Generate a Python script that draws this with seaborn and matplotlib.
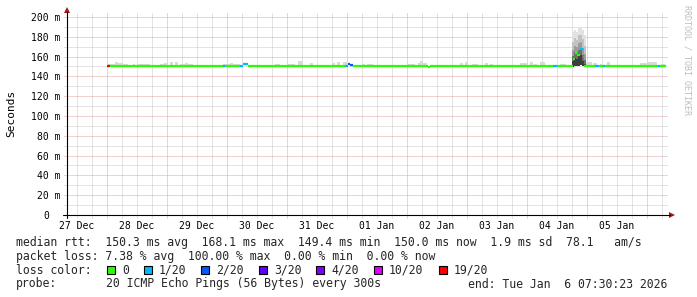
import matplotlib
matplotlib.use("Agg")
import matplotlib.pyplot as plt
from matplotlib.patches import Polygon, Rectangle
from matplotlib.lines import Line2D
from matplotlib.transforms import blended_transform_factory
import numpy as np
import pandas as pd
import seaborn as sns

# ------------------------------------------------------------------ data
# x values are hours after 27 Dec 00:00
day_labels = ["27 Dec", "28 Dec", "29 Dec", "30 Dec", "31 Dec",
              "01 Jan", "02 Jan", "03 Jan", "04 Jan", "05 Jan"]
y_tick_values = [0, 20, 40, 60, 80, 100, 120, 140, 160, 180, 200]
y_tick_labels = ["0", "20 m", "40 m", "60 m", "80 m", "100 m", "120 m",
                 "140 m", "160 m", "180 m", "200 m"]

loss_labels = ["0", "1/20", "2/20", "3/20", "4/20", "10/20", "19/20"]
loss_colors = ["#26ff00", "#00b8ff", "#0059ff", "#5e00ff", "#7e00ff",
               "#dd00ff", "#ff0000"]

# median rtt (ms) as steps: start hour, end hour, value, loss class
med_start = [24.1, 25.1, 70.3, 71.1, 77.1, 78.3, 80.3, 119.1, 120.3, 121.1,
             122.3, 152.3, 153.1, 202.3, 203.9, 210.3, 211.3, 212.1, 213.1,
             214.3, 214.9, 219.1, 220.7, 222.3, 223.1, 244.3, 245.1]
med_end = [25.1, 70.3, 71.1, 77.1, 78.3, 80.3, 119.1, 120.3, 121.1, 122.3,
           152.3, 153.1, 202.3, 203.9, 210.3, 211.3, 212.1, 213.1, 214.3,
           214.9, 219.1, 220.7, 222.3, 223.1, 244.3, 245.1, 247.5]
med_value = [150.0, 150.0, 150.0, 150.0, 150.0, 152.5, 150.0, 150.0, 153.0,
             151.5, 150.0, 149.4, 150.0, 150.0, 150.0, 158.0, 163.5, 162.0,
             168.1, 159.6, 150.0, 150.0, 150.0, 150.0, 150.0, 150.0, 150.0]
med_loss = [6, 0, 1, 0, 1, 1, 0, 1, 2, 2, 0, 0, 0, 1, 0, 0, 0, 0, 1, 1, 0,
            1, 0, 1, 0, 1, 0]

# light smoke above the median: start hour, end hour, top (ms)
smoke_start = [24.3, 27.1, 28.3, 30.3, 34.3, 35.9, 37.1, 41.1, 45.1, 46.7,
               49.1, 51.1, 53.1, 55.1, 56.3, 59.1, 62.3, 65.9, 70.3, 71.5,
               73.1, 74.3, 85.1, 87.1, 91.1, 95.9, 100.3, 103.1, 105.1,
               107.9, 113.9, 115.9, 118.3, 123.9, 125.9, 127.9, 131.1, 135.1,
               139.1, 144.3, 148.3, 149.1, 150.3, 153.1, 165.1, 167.1, 169.9,
               175.1, 177.1, 179.1, 183.1, 189.1, 193.1, 194.7, 197.1, 199.9,
               205.1, 215.1, 218.3, 221.1, 223.9, 231.9, 237.1, 240.3, 245.5]
smoke_end = [27.1, 28.3, 30.3, 32.3, 35.1, 37.1, 41.1, 45.1, 46.7, 47.9,
             50.3, 52.3, 55.1, 56.3, 58.3, 61.1, 64.3, 67.1, 71.5, 73.1,
             74.3, 77.1, 86.3, 90.3, 93.1, 99.1, 102.3, 104.3, 106.3,
             111.1, 115.1, 117.1, 119.9, 125.1, 127.1, 130.3, 133.1, 136.3,
             143.9, 147.1, 149.1, 150.3, 151.9, 155.1, 166.3, 168.3, 172.3,
             176.3, 178.3, 180.3, 184.3, 192.3, 194.3, 195.9, 199.1, 201.9,
             207.5, 217.9, 219.9, 222.3, 225.1, 233.1, 240.3, 243.9, 247.1]
smoke_top = [152.4, 154.8, 153.4, 152.1, 152.1, 152.8, 152.1, 151.6, 152.4,
             153.4, 154.1, 154.8, 152.4, 153.8, 152.4, 151.7, 151.7, 151.7,
             152.8, 152.4, 153.8, 152.8, 151.7, 151.7, 152.8, 152.1, 155.5,
             151.7, 153.8, 151.7, 153.4, 154.5, 154.8, 151.7, 152.4, 152.8,
             151.7, 151.7, 151.7, 152.8, 153.4, 155.8, 153.4, 151.7, 153.1,
             154.8, 152.8, 153.8, 152.4, 151.7, 151.7, 153.4, 154.1, 152.8,
             154.1, 151.7, 152.4, 154.5, 153.4, 152.8, 154.1, 151.7, 153.1,
             154.1, 152.4]

# latency spike on 04 Jan: smoke band limits per time bin (ms)
spike_start = [209.9, 210.7, 211.5, 212.3, 213.1, 213.9, 214.7]
spike_q0 = [149.0, 150.0, 150.0, 150.0, 151.0, 150.0, 150.0]
spike_q1 = [156.0, 159.0, 158.0, 161.0, 162.0, 156.0, 153.0]
spike_q2 = [161.0, 165.0, 164.0, 167.0, 168.0, 162.0, 157.0]
spike_q3 = [167.0, 171.0, 170.0, 174.0, 175.0, 169.0, 163.0]
spike_q4 = [175.0, 179.0, 177.0, 182.0, 182.0, 178.0, 171.0]
spike_q5 = [185.0, 187.0, 185.0, 189.0, 190.0, 187.0, 182.0]

text_rows = [
    "median rtt:  150.3 ms avg  168.1 ms max  149.4 ms min  150.0 ms now  1.9 ms sd  78.1   am/s",
    "packet loss: 7.38 % avg  100.00 % max  0.00 % min  0.00 % now",
]
probe_text = "20 ICMP Echo Pings (56 Bytes) every 300s"
end_text = "end: Tue Jan  6 07:30:23 2026"
watermark = "RRDTOOL / TOBI OETIKER"

# ------------------------------------------------------------------ style
sns.set_theme(style="white")
plt.rcParams["font.family"] = ["DejaVu Sans Mono", "DejaVu Sans"]

W, H = 697, 297
def fx(x):
    return x / W
def fy(y):
    return 1 - y / H

fig = plt.figure(figsize=(W / 100, H / 100), dpi=100)
fig.patch.set_facecolor("white")
ax = fig.add_axes([fx(67), fy(215), 600 / W, 202 / H])
ax.set_xlim(8, 248)
ax.set_ylim(0, 204)
ax.set_facecolor("white")
for s in ax.spines.values():
    s.set_visible(False)

minor_c = "#c8c8c8"
major_c = "#e0a4a4"
dot = (0, (1, 1))

midnights = list(range(24, 248, 24))
six_h = [h for h in range(12, 248, 6) if h % 24 != 0]
y_minor = list(range(10, 200, 20))
y_major = list(range(20, 201, 20))

ax.hlines(y_minor, 6.8, 248, colors=minor_c, linestyles=[dot], linewidth=0.72,
          clip_on=False, zorder=1)
ax.vlines(six_h, -3, 204, colors=minor_c, linestyles=[dot], linewidth=0.72,
          clip_on=False, zorder=1)
ax.hlines(y_major, 6.8, 248, colors=major_c, linestyles=[dot], linewidth=0.72,
          clip_on=False, zorder=1.5)
ax.vlines(midnights, -3, 204, colors=major_c, linestyles=[dot], linewidth=0.72,
          clip_on=False, zorder=1.5)

# smoke
smoke = pd.DataFrame({"start": smoke_start, "end": smoke_end, "top": smoke_top})
base = 149.5
ax.bar(smoke["start"], smoke["top"] - base, width=smoke["end"] - smoke["start"],
       bottom=base, align="edge", color="#d9d9d9", linewidth=0, zorder=2)

spike = pd.DataFrame({"start": spike_start, "q0": spike_q0, "q1": spike_q1,
                      "q2": spike_q2, "q3": spike_q3, "q4": spike_q4,
                      "q5": spike_q5})
bw = 0.8
shades = ["#3c3c3c", "#6e6e6e", "#9c9c9c", "#c2c2c2", "#e2e2e2"]
bands = ["q0", "q1", "q2", "q3", "q4", "q5"]
for lo, hi, sh in zip(bands[:-1], bands[1:], shades):
    ax.bar(spike["start"], spike[hi] - spike[lo], width=bw, bottom=spike[lo],
           align="edge", color=sh, linewidth=0, zorder=2)

# median line
med = pd.DataFrame({"start": med_start, "end": med_end, "value": med_value,
                    "loss": med_loss})
ax.hlines(med["value"], med["start"], med["end"],
          colors=[loss_colors[i] for i in med["loss"]], linewidth=1.6,
          zorder=4)

# ticks
ax.set_xticks([12 + 24 * i for i in range(len(day_labels))])
ax.set_xticklabels(day_labels, fontsize=7)
ax.tick_params(axis="x", length=0, pad=4.3, colors="black")
ax.set_yticks([])
cw7 = 0.602 * 7 * 100 / 72
ytr = blended_transform_factory(fig.transFigure, ax.transData)
for v, lab in zip(y_tick_values, y_tick_labels):
    right = 60.5 if lab.endswith("m") else 60.5 - 2 * cw7
    ax.text(fx(right), v, lab, transform=ytr, ha="right", va="center_baseline",
            fontsize=7, color="black")

# axis lines and arrows
arrow_c = "#9b1b1b"
fig.add_artist(Line2D([fx(63), fx(670)], [fy(215), fy(215)], color="black",
                      linewidth=0.8))
fig.add_artist(Line2D([fx(67), fx(67)], [fy(218), fy(12)], color="black",
                      linewidth=0.8))
fig.add_artist(Polygon([[fx(675), fy(215)], [fx(669), fy(212)], [fx(669), fy(218)]],
                       closed=True, transform=fig.transFigure, color=arrow_c,
                       linewidth=0))
fig.add_artist(Polygon([[fx(67), fy(7)], [fx(64), fy(13)], [fx(70), fy(13)]],
                       closed=True, transform=fig.transFigure, color=arrow_c,
                       linewidth=0))

# labels
fig.text(fx(11), fy(113), "Seconds", rotation=90, ha="center", va="center",
         fontsize=8, color="black")
fig.text(fx(687), fy(60), watermark, rotation=270, ha="center", va="center",
         fontsize=6, color="#bdbdbd")

# legend / summary rows
fs = 8.3
cw = 0.602 * fs * 100 / 72
x0 = 16
baselines = [246, 260, 273.7, 287.5]
for row, bl in zip(text_rows, baselines[:2]):
    fig.text(fx(x0), fy(bl), row, fontsize=fs, ha="left", va="baseline")

fig.text(fx(x0), fy(baselines[2]), "loss color:", fontsize=fs, ha="left",
         va="baseline")
col = 13.1
for lab, c in zip(loss_labels, loss_colors):
    sx = x0 + col * cw
    fig.add_artist(Rectangle((fx(sx), fy(baselines[2])), 8 / W, 8 / H,
                             transform=fig.transFigure, facecolor=c,
                             edgecolor="black", linewidth=0.8))
    col += 2.15
    fig.text(fx(x0 + col * cw), fy(baselines[2]), lab, fontsize=fs, ha="left",
             va="baseline")
    col += len(lab) + 2.15

fig.text(fx(x0), fy(baselines[3]), "probe:", fontsize=fs, ha="left", va="baseline")
fig.text(fx(x0 + 13 * cw), fy(baselines[3]), probe_text, fontsize=fs, ha="left",
         va="baseline")
fig.text(fx(667), fy(baselines[3]), end_text, fontsize=fs, ha="right",
         va="baseline")

fig.savefig("out.png", dpi=100, facecolor="white")
